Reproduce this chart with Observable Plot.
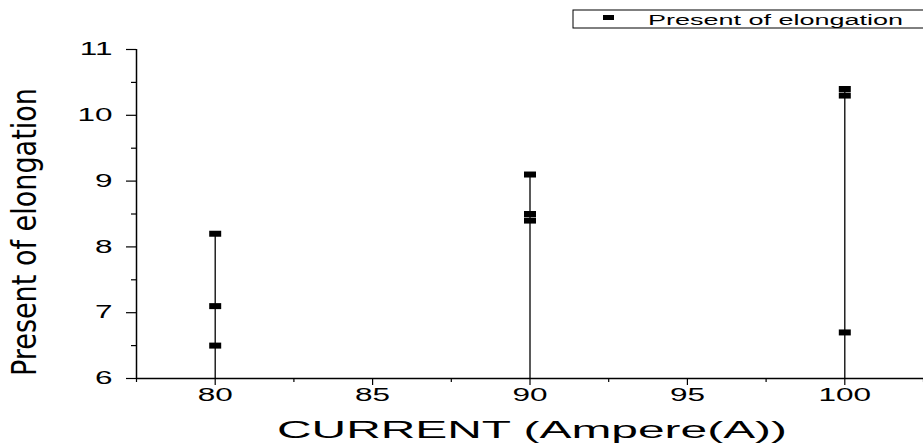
<!DOCTYPE html>
<html>
<head>
<meta charset="utf-8">
<script src="https://cdn.jsdelivr.net/npm/d3@7"></script>
<script src="https://cdn.jsdelivr.net/npm/@observablehq/plot@0.6"></script>
<style>
  html, body { margin: 0; padding: 0; background: #fff; }
  #chart { width: 923px; height: 447px; overflow: hidden; }
</style>
</head>
<body>
<div id="chart"></div>
<script>
// ---- data ----
const currents   = [80, 80, 80, 90, 90, 90, 100, 100, 100];
const elongation = [6.5, 7.1, 8.2, 8.4, 8.5, 9.1, 6.7, 10.3, 10.4];
const xTicks = [80, 85, 90, 95, 100];
const xMinor = [77.5, 82.5, 87.5, 92.5, 97.5, 102.5];
const yTicks = [6, 7, 8, 9, 10, 11];
const yMinor = [6.5, 7.5, 8.5, 9.5, 10.5];
const xDomain = [77.5, 102.5];
const yDomain = [6, 11];
const seriesName = "Present of elongation";
const xLabel = "CURRENT (Ampere(A))";
const yLabel = "Present of elongation";

const data = currents.map((x, i) => ({x, y: elongation[i]}));
const tops = d3.rollups(data, v => d3.max(v, d => d.y), d => d.x).map(([x, y]) => ({x, y}));

const rectSymbol = { draw(ctx) { ctx.rect(-6, -3, 12, 6); } };

const chart = Plot.plot({
  width: 923, height: 447,
  marginTop: 49, marginBottom: 69, marginLeft: 136, marginRight: 0,
  style: { fontFamily: "'Liberation Sans', Arial, sans-serif", fontSize: "18px", color: "black", background: "white", overflow: "visible" },
  x: { domain: xDomain },
  y: { domain: yDomain },
  marks: [
    Plot.ruleX(tops, { x: "x", y1: yDomain[0], y2: "y", stroke: "black", strokeWidth: 1.3 }),
    Plot.axisX(xMinor, { tickSize: 4, tickFormat: () => "", label: null, strokeWidth: 1.2 }),
    Plot.axisX(xTicks, { tickSize: 7, tickPadding: 3, fontSize: 18, label: null, strokeWidth: 1.2, tickFormat: d => String(d) }),
    Plot.axisY(yMinor, { tickSize: 5, tickFormat: () => "", label: null, strokeWidth: 1.2 }),
    Plot.axisY(yTicks, { tickSize: 10, tickPadding: 14, fontSize: 18, label: null, strokeWidth: 1.2, tickFormat: d => String(d) }),
    Plot.ruleY([yDomain[0]], { stroke: "black", strokeWidth: 1.5 }),
    Plot.ruleX([xDomain[0]], { stroke: "black", strokeWidth: 1.5 }),
    Plot.dot(data, { x: "x", y: "y", symbol: rectSymbol, fill: "black", stroke: "none" })
  ]
});

document.getElementById("chart").appendChild(chart);
const svg = d3.select(chart);

// stretch tick labels horizontally
svg.selectAll('g[aria-label="x-axis tick label"] text, g[aria-label="y-axis tick label"] text').each(function () {
  const t = this.textContent;
  if (!t) return;
  const len = this.getComputedTextLength();
  this.setAttribute("textLength", len * 1.75);
  this.setAttribute("lengthAdjust", "spacingAndGlyphs");
});

// x-axis title
svg.append("text")
  .attr("x", 532).attr("y", 438)
  .attr("text-anchor", "middle")
  .attr("font-family", "'Liberation Sans', Arial, sans-serif")
  .attr("font-size", 24)
  .attr("fill", "black")
  .attr("textLength", 510)
  .attr("lengthAdjust", "spacingAndGlyphs")
  .text(xLabel);

// y-axis title
svg.append("text")
  .attr("transform", "translate(36,232) rotate(-90)")
  .attr("text-anchor", "middle")
  .attr("font-family", "'Liberation Sans Narrow', 'DejaVu Sans Condensed', Arial, sans-serif")
  .attr("font-size", 33)
  .attr("fill", "black")
  .attr("textLength", 288)
  .attr("lengthAdjust", "spacingAndGlyphs")
  .text(yLabel);

// legend
const lg = svg.append("g").attr("aria-label", "legend");
lg.append("rect").attr("x", 573).attr("y", 10).attr("width", 360).attr("height", 18)
  .attr("fill", "white").attr("stroke", "black").attr("stroke-width", 1);
lg.append("rect").attr("x", 603).attr("y", 15).attr("width", 11).attr("height", 5).attr("fill", "black");
lg.append("text")
  .attr("x", 648).attr("y", 25)
  .attr("text-anchor", "start")
  .attr("font-family", "'Liberation Sans', Arial, sans-serif")
  .attr("font-size", 14)
  .attr("fill", "black")
  .attr("textLength", 255)
  .attr("lengthAdjust", "spacingAndGlyphs")
  .text(seriesName);
</script>
</body>
</html>
